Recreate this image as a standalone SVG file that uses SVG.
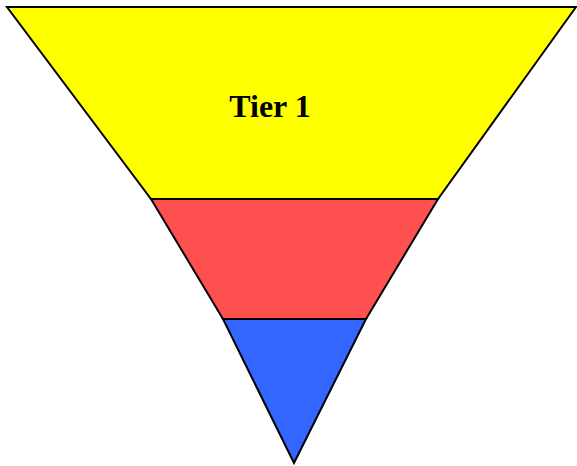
<svg xmlns="http://www.w3.org/2000/svg" width="577" height="466" viewBox="0 0 577 466">
<style>
.tier{stroke:#000;stroke-width:2;stroke-linejoin:miter}
.lbl{font-family:"Liberation Serif","Times New Roman",serif;font-weight:bold;font-size:32px;fill:#000}
</style>
<rect width="577" height="466" fill="#fff"/>
<g id="tier1">
<polygon class="tier" fill="#ffff00" points="7,7 576,7 438,199 151,199"/>
<text class="lbl" x="270" y="117" text-anchor="middle">Tier 1</text>
</g>
<g id="tier2">
<polygon class="tier" fill="#ff5050" points="151,199 438,199 366,319 223,319"/>
</g>
<g id="tier3">
<polygon class="tier" fill="#3366ff" points="223,319 366,319 294,463"/>
</g>
<g id="connectors"></g>
</svg>
